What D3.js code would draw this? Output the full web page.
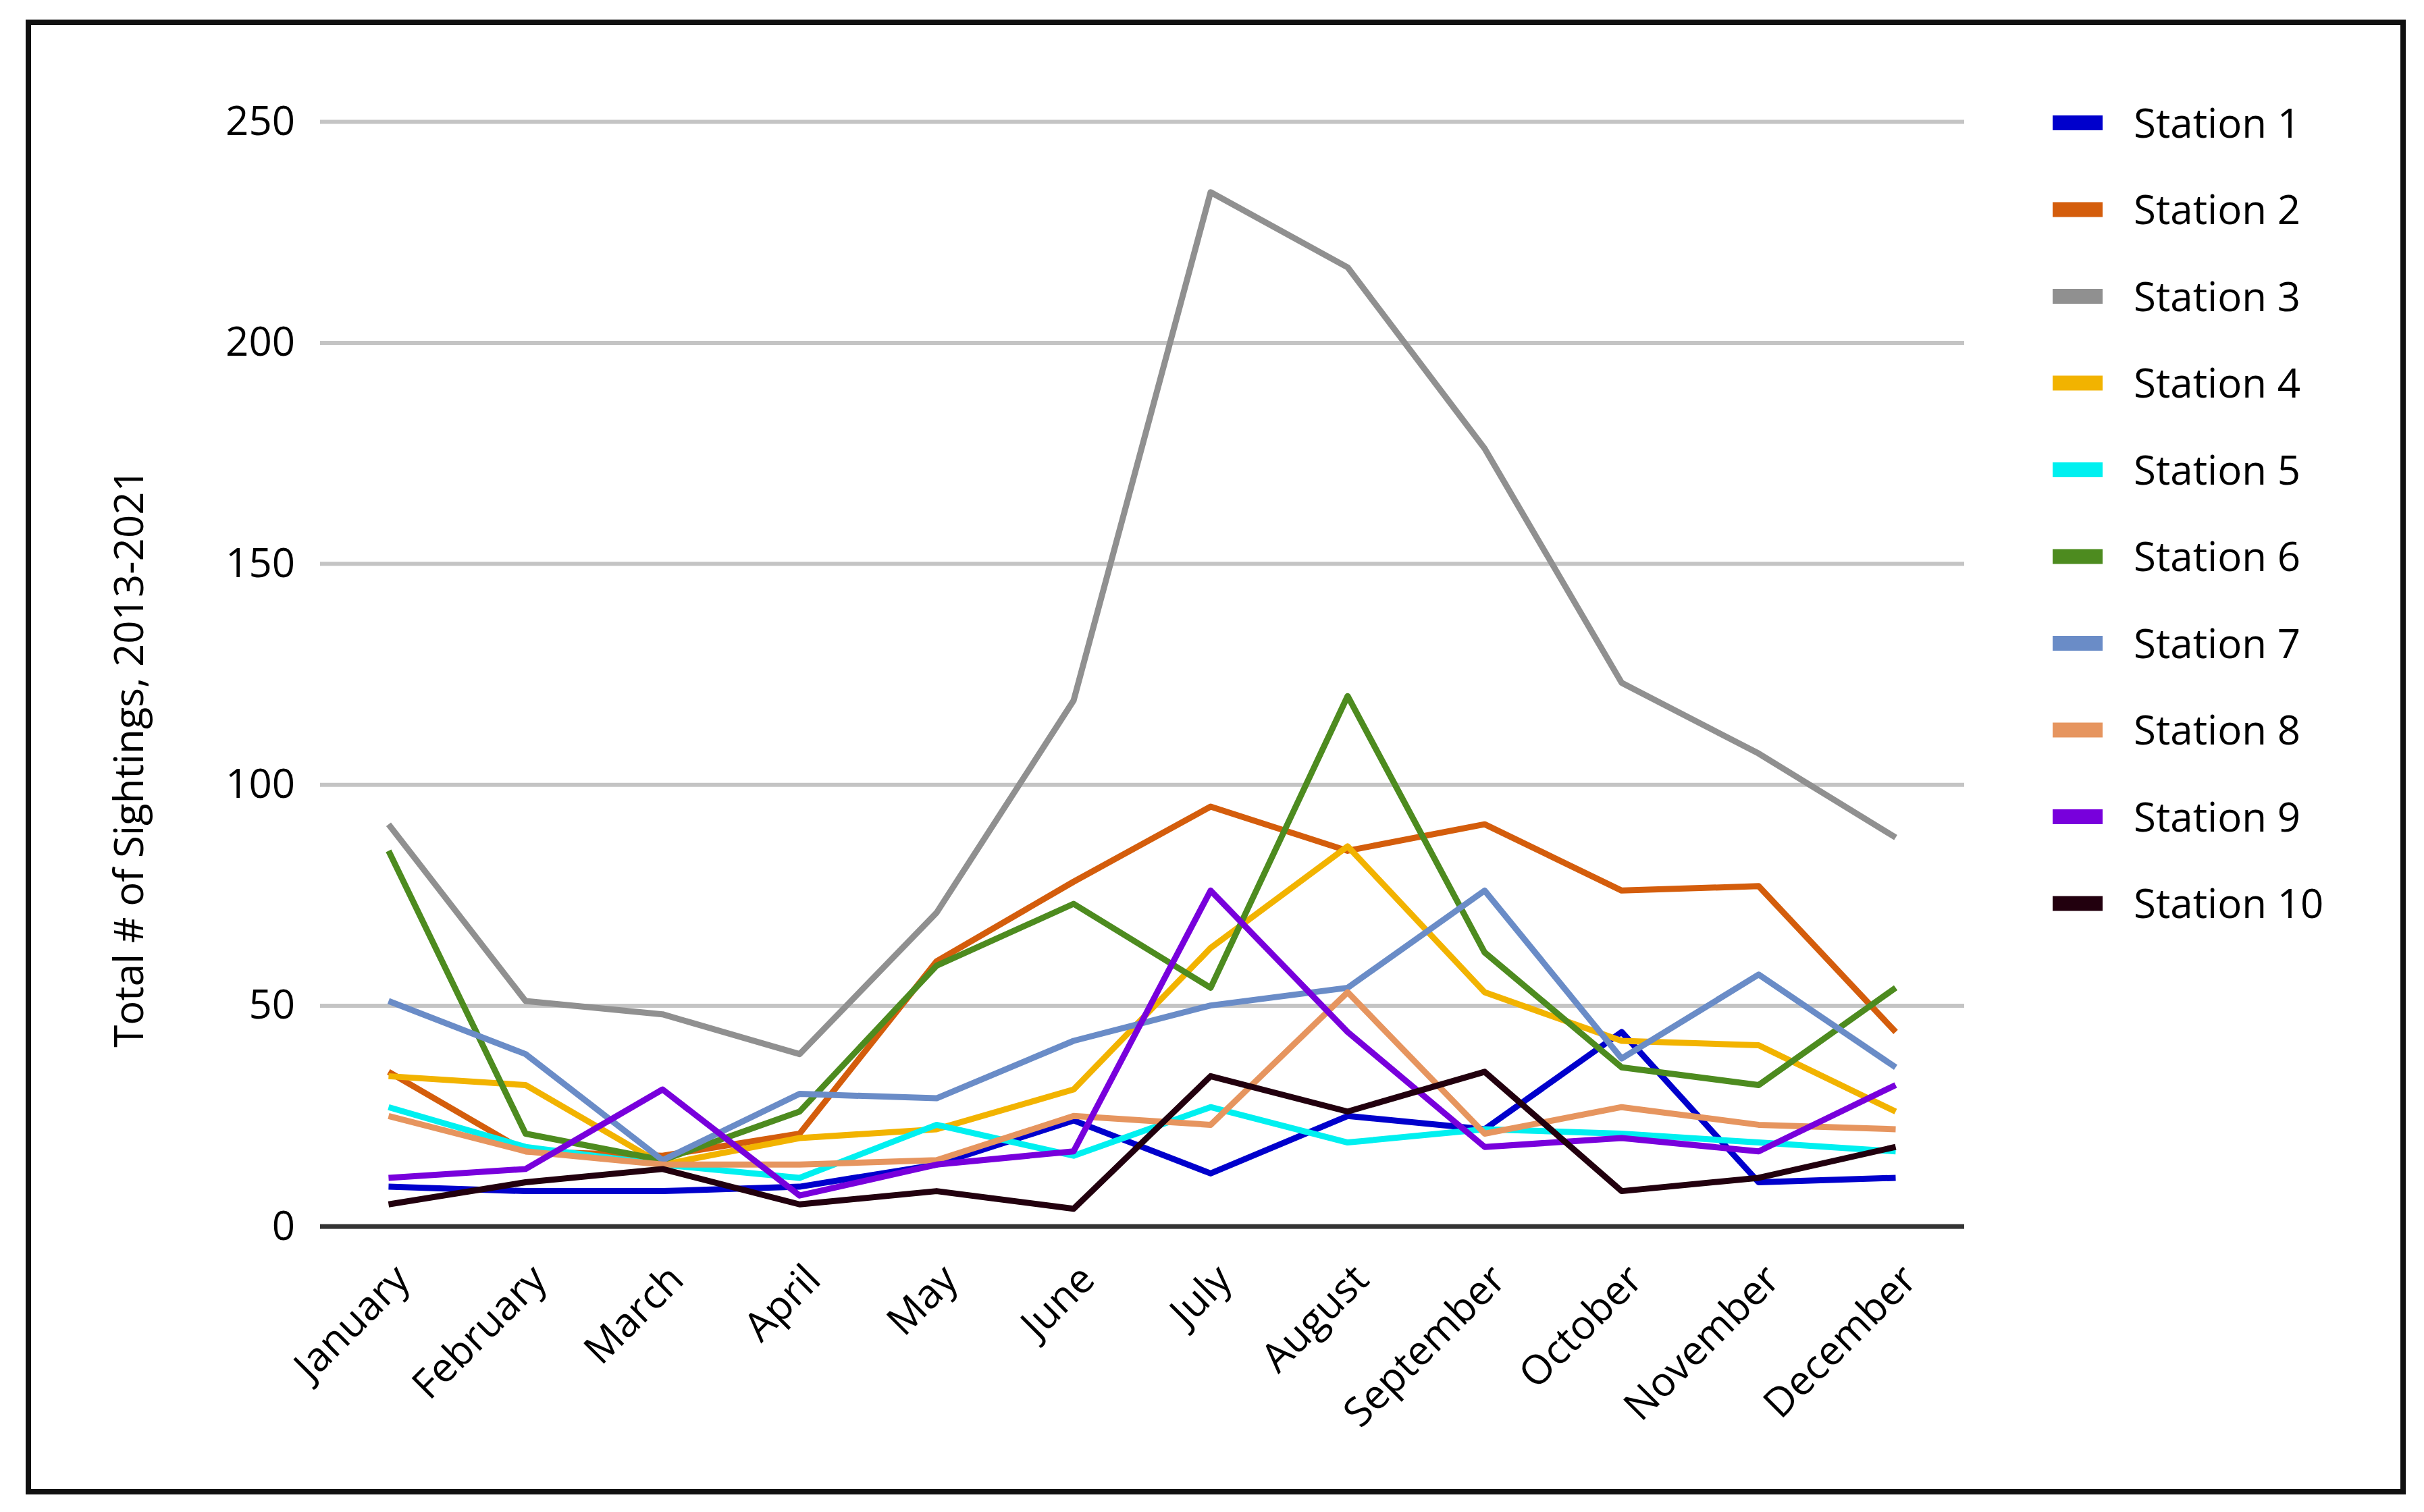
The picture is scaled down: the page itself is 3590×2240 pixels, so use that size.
<!DOCTYPE html>
<html>
<head>
<meta charset="utf-8">
<script src="https://cdn.jsdelivr.net/npm/d3@7"></script>
<style>
  body { margin: 0; background: #fff; }
  text { font-family: "Open Sans", sans-serif; fill: #000; }
</style>
</head>
<body>
<div id="chart"></div>
<script>

// Categories and series.
const months = ["January", "February", "March", "April", "May", "June",
                "July", "August", "September", "October", "November", "December"];

const station1  = [9, 8, 8, 9, 14, 24, 12, 25, 22, 44, 10, 11];
const station2  = [35, 17, 16, 21, 60, 78, 95, 85, 91, 76, 77, 44];
const station3  = [91, 51, 48, 39, 71, 119, 234, 217, 176, 123, 107, 88];
const station4  = [34, 32, 14, 20, 22, 31, 63, 86, 53, 42, 41, 26];
const station5  = [27, 18, 14, 11, 23, 16, 27, 19, 22, 21, 19, 17];
const station6  = [85, 21, 15, 26, 59, 73, 54, 120, 62, 36, 32, 54];
const station7  = [51, 39, 15, 30, 29, 42, 50, 54, 76, 38, 57, 36];
const station8  = [25, 17, 14, 14, 15, 25, 23, 53, 21, 27, 23, 22];
const station9  = [11, 13, 31, 7, 14, 17, 76, 44, 18, 20, 17, 32];
const station10 = [5, 10, 13, 5, 8, 4, 34, 26, 35, 8, 11, 18];

const stationNames = ["Station 1", "Station 2", "Station 3", "Station 4", "Station 5",
                      "Station 6", "Station 7", "Station 8", "Station 9", "Station 10"];
const stationValues = [station1, station2, station3, station4, station5,
                       station6, station7, station8, station9, station10];
const stationColors = ["#0000cc", "#d45d0c", "#909090", "#f2b300", "#00f0f0",
                       "#4d8b1f", "#6a8cc7", "#e6955f", "#7800dc", "#22000e"];

const yTicks = [0, 50, 100, 150, 200, 250];


// Page size and plot box.
const W = 3590, H = 2240;
const plot = { left: 474, right: 2909, top: 180, bottom: 1817 };

let svg = d3.select("#chart").append("svg")
    .attr("width", W)
    .attr("height", H);

// outer frame
svg.append("rect")
    .attr("x", 42).attr("y", 33)
    .attr("width", 3559 - 42).attr("height", 2210 - 33)
    .attr("fill", "#fff")
    .attr("stroke", "#111")
    .attr("stroke-width", 8);


// Scales
let x = d3.scalePoint()
    .domain(months)
    .range([plot.left, plot.right])
    .padding(0.5);

let y = d3.scaleLinear()
    .domain([0, 250])
    .range([plot.bottom, plot.top]);


// Gridlines + y labels
let yAxis = d3.axisLeft(y)
    .tickValues(yTicks)
    .tickSize(-(plot.right - plot.left))
    .tickPadding(37)
    .tickFormat(d3.format("d"));

let yAxisEl = svg.append("g")
    .attr("class", "y axis")
    .attr("transform", "translate(" + plot.left + ",0)")
    .call(yAxis);
yAxisEl.select(".domain").remove();
yAxisEl.selectAll(".tick line")
    .attr("stroke", "#c4c4c4")
    .attr("stroke-width", 6);
yAxisEl.selectAll(".tick text")
    .attr("font-size", 60)
    .attr("font-family", "Open Sans")
    .attr("fill", "#000");

svg.append("text")
    .attr("transform", "translate(212,1123) rotate(-90)")
    .attr("text-anchor", "middle")
    .attr("font-size", 60)
    .text("Total # of Sightings, 2013-2021");


// Lines
const line = d3.line()
    .x((d, i) => x(months[i]))
    .y(d => y(d));

svg.append("g")
    .selectAll("path")
    .data(stationValues)
    .join("path")
    .attr("d", line)
    .attr("fill", "none")
    .attr("stroke", (d, i) => stationColors[i])
    .attr("stroke-width", 9)
    .attr("stroke-linejoin", "round");


// x axis (drawn over the lines, labels slanted)
let xAxis = d3.axisBottom(x)
    .tickSize(0)
    .tickPadding(0);

let xAxisEl = svg.append("g")
    .attr("class", "x axis")
    .attr("transform", "translate(0," + plot.bottom + ")")
    .call(xAxis);
xAxisEl.select(".domain")
    .attr("stroke", "#333")
    .attr("stroke-width", 7)
    .attr("d", "M" + plot.left + ",0H" + plot.right);
xAxisEl.selectAll(".tick text")
    .attr("font-size", 60)
    .attr("font-family", "Open Sans")
    .attr("fill", "#000")
    .attr("text-anchor", "end")
    .attr("dy", 0)
    .attr("transform", "translate(34,82) rotate(-45)");


// Legend
const legendTop = 182, legendStep = 128.5;

let legend = svg.append("g")
    .attr("id", "legend");

legend.selectAll("rect")
    .data(stationNames)
    .join("rect")
    .attr("x", 3040)
    .attr("y", (d, i) => legendTop + i * legendStep - 11)
    .attr("width", 74)
    .attr("height", 22)
    .attr("fill", (d, i) => stationColors[i]);

legend.selectAll("text")
    .data(stationNames)
    .join("text")
    .attr("x", 3160)
    .attr("y", (d, i) => legendTop + i * legendStep)
    .attr("dy", "0.36em")
    .attr("font-size", 60)
    .text(d => d);

</script>
</body>
</html>
